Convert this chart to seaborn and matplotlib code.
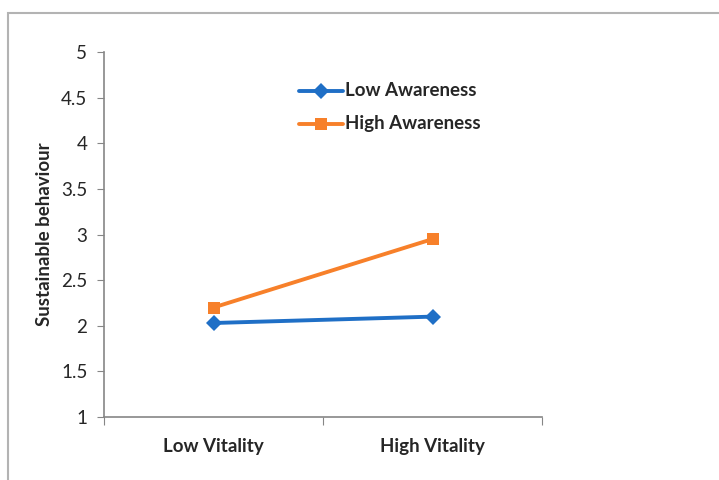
import pandas as pd
import matplotlib.pyplot as plt
import matplotlib.patches as patches
import seaborn as sns

vitality = ["Low Vitality", "High Vitality"]
low_awareness = [2.03, 2.10]
high_awareness = [2.20, 2.95]

df = pd.DataFrame({
    "vitality": vitality * 2,
    "behaviour": low_awareness + high_awareness,
    "group": ["Low Awareness"] * 2 + ["High Awareness"] * 2,
})

sns.set_style("white")
plt.rcParams["font.family"] = ["Lato", "DejaVu Sans"]

fig = plt.figure(figsize=(7.19, 4.8), dpi=100)
ax = fig.add_axes([104 / 719, 1 - 417 / 480, 438 / 719, 365 / 480])

# outer chart border
fig.patches.append(patches.Rectangle((8 / 719, -0.1), 1.2, 1 - 13.5 / 480 + 0.1,
                                     transform=fig.transFigure, fill=False,
                                     edgecolor="#b3b3b3", linewidth=1.5))

palette = {"Low Awareness": "#1f6fc6", "High Awareness": "#f7802a"}
sns.lineplot(data=df, x="vitality", y="behaviour", hue="group", style="group",
             markers={"Low Awareness": "D", "High Awareness": "s"}, dashes=False,
             palette=palette, linewidth=2.8, markersize=8, markeredgewidth=0,
             ax=ax)

ax.set_xlim(-0.5, 1.5)
ax.set_ylim(1, 5)
ax.set_yticks([1, 1.5, 2, 2.5, 3, 3.5, 4, 4.5, 5])
ax.set_yticklabels(["1", "1.5", "2", "2.5", "3", "3.5", "4", "4.5", "5"], fontsize=13.5)
ax.set_xticks([-0.5, 0.5, 1.5], minor=False)
ax.set_xticklabels([])
ax.set_xticks([0, 1], minor=True)
ax.set_xticklabels(vitality, minor=True, fontsize=13.5, fontweight="bold")
ax.tick_params(axis="x", which="major", length=6, color="#868686", direction="out", bottom=True)
ax.tick_params(axis="x", which="minor", length=0, pad=15)
ax.tick_params(axis="y", length=5, color="#868686", direction="out", left=True, pad=7)

for s in ["top", "right"]:
    ax.spines[s].set_visible(False)
for s in ["left", "bottom"]:
    ax.spines[s].set_color("#868686")
    ax.spines[s].set_linewidth(1.2)

ax.set_xlabel("")
ax.set_ylabel("Sustainable behaviour", fontsize=13.5, fontweight="bold", labelpad=6)

leg = ax.legend(loc="upper left", bbox_to_anchor=(293 / 719, 1 - 76 / 480),
                bbox_transform=fig.transFigure, frameon=False, handlelength=3.2,
                handletextpad=0.15, labelspacing=1.15, borderaxespad=0)
for t in leg.get_texts():
    t.set_fontweight("bold")
    t.set_fontsize(13.5)

plt.savefig("out.png", dpi=100)
